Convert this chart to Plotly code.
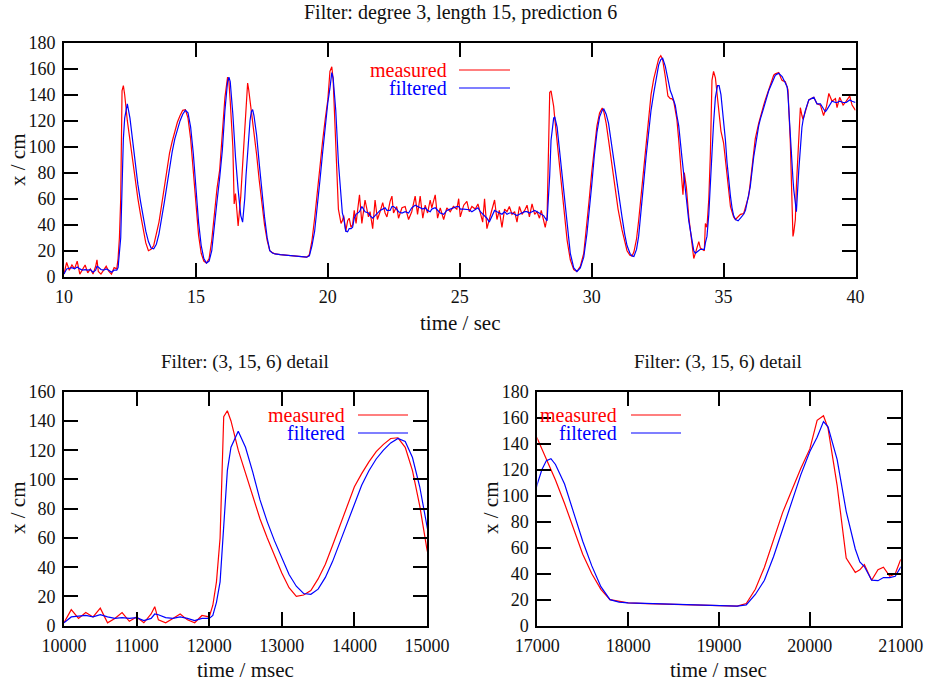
import plotly.graph_objects as go

# ---- data: position samples (time in seconds, position in cm) ----
time_s = [
    10.0, 10.1, 10.2, 10.3, 10.4, 10.5, 10.6, 10.7, 10.8, 10.9,
    11.0, 11.1, 11.2, 11.25, 11.3, 11.4, 11.5, 11.6, 11.7, 11.8,
    11.9, 12.0, 12.05, 12.1, 12.15, 12.2, 12.25, 12.3, 12.4, 12.5,
    12.6, 12.7, 12.8, 12.9, 13.0, 13.1, 13.2, 13.3, 13.4, 13.5,
    13.6, 13.7, 13.8, 13.9, 14.0, 14.1, 14.2, 14.3, 14.4, 14.5,
    14.6, 14.7, 14.8, 14.9, 15.0, 15.1, 15.2, 15.3, 15.4, 15.5,
    15.6, 15.7, 15.8, 15.9, 16.0, 16.1, 16.2, 16.25, 16.3, 16.4,
    16.45, 16.5, 16.6, 16.7, 16.77, 16.85, 16.9, 16.96, 17.0, 17.05,
    17.1, 17.15, 17.2, 17.3, 17.4, 17.5, 17.6, 17.7, 17.8, 17.9,
    18.0, 18.2, 18.4, 18.6, 18.8, 19.0, 19.2, 19.3, 19.4, 19.5,
    19.6, 19.7, 19.8, 19.9, 20.0, 20.08, 20.15, 20.2, 20.3, 20.4,
    20.5, 20.55, 20.6, 20.68, 20.75, 20.81, 20.88, 20.94, 21.0, 21.07,
    21.2, 21.29, 21.41, 21.54, 21.6, 21.7, 21.79, 21.88, 21.98, 22.08,
    22.17, 22.24, 22.36, 22.43, 22.49, 22.61, 22.68, 22.81, 22.93, 23.06,
    23.18, 23.31, 23.4, 23.5, 23.6, 23.69, 23.78, 23.88, 23.94, 24.07,
    24.16, 24.26, 24.39, 24.51, 24.64, 24.76, 24.89, 24.96, 25.02, 25.15,
    25.27, 25.36, 25.46, 25.59, 25.69, 25.78, 25.87, 25.94, 26.03, 26.12,
    26.22, 26.32, 26.41, 26.5, 26.6, 26.7, 26.79, 26.88, 26.98, 27.08,
    27.17, 27.26, 27.36, 27.46, 27.55, 27.64, 27.74, 27.84, 27.93, 28.02,
    28.09, 28.18, 28.24, 28.31, 28.41, 28.46, 28.56, 28.6, 28.69, 28.81,
    28.94, 29.07, 29.19, 29.32, 29.44, 29.57, 29.7, 29.82, 29.9, 30.0,
    30.1, 30.2, 30.3, 30.4, 30.46, 30.55, 30.64, 30.75, 30.89, 31.0,
    31.15, 31.25, 31.34, 31.45, 31.53, 31.6, 31.7, 31.78, 31.88, 31.97,
    32.06, 32.16, 32.25, 32.35, 32.45, 32.54, 32.62, 32.69, 32.79, 32.89,
    32.98, 33.04, 33.11, 33.17, 33.23, 33.3, 33.42, 33.46, 33.51, 33.59,
    33.68, 33.8, 33.87, 33.93, 33.99, 34.06, 34.12, 34.2, 34.27, 34.31,
    34.37, 34.44, 34.5, 34.56, 34.62, 34.69, 34.77, 34.83, 34.9, 35.0,
    35.07, 35.13, 35.19, 35.26, 35.32, 35.38, 35.45, 35.55, 35.64, 35.76,
    35.83, 35.95, 36.01, 36.14, 36.2, 36.33, 36.39, 36.52, 36.58, 36.71,
    36.77, 36.9, 36.96, 37.09, 37.19, 37.22, 37.34, 37.41, 37.44, 37.53,
    37.63, 37.66, 37.72, 37.76, 37.85, 37.91, 37.97, 38.01, 38.1, 38.23,
    38.32, 38.42, 38.54, 38.67, 38.79, 38.86, 38.9, 38.99, 39.11, 39.24,
    39.3, 39.4, 39.53, 39.65, 39.78, 39.87, 40.0,
]

measured = [
    2, 11, 5, 9, 6, 12, 2, 5, 9, 3,
    6, 2, 8, 13, 4, 2, 5, 8, 4, 2,
    7, 6, 14, 30, 60, 143, 147, 140, 120, 104,
    89, 73, 60, 48, 36, 26, 20, 21, 24, 32,
    42, 55, 68, 82, 95, 104, 112, 119, 124, 128,
    128.5, 122, 106, 82, 52, 32, 18, 12, 10.5, 14,
    28, 48, 68, 82, 110, 138, 153.5, 150, 135, 100,
    56, 64, 39, 62, 86, 112, 128, 149, 144, 136,
    128, 120, 112, 94, 74, 55, 40, 28, 20, 18.5,
    17.5, 17, 16.5, 16, 15.5, 15, 15, 17, 28, 45,
    66, 87, 104, 121, 136, 158, 161.5, 152, 108, 52,
    41, 43, 47, 35, 43, 45, 38, 40, 51, 41,
    63, 41, 59, 46, 50, 37, 59, 44, 50, 57,
    49, 46, 58, 62, 49, 54, 45, 53, 54, 44,
    50, 62, 48, 62, 45, 55, 49, 59, 53, 63,
    45, 53, 44, 53, 50, 54, 52, 60, 46, 55,
    58, 50, 54, 52, 56, 48, 42, 60, 37, 44,
    52, 59, 44, 51, 38, 52, 50, 54, 48, 50,
    42, 54, 48, 51, 55, 46, 56, 48, 50, 45,
    51, 42, 38, 46, 141.8, 143, 131, 122, 105, 79,
    54, 28, 13, 5.4, 4, 7.9, 18, 40, 58, 80,
    100, 116, 126, 129.7, 127, 118, 105, 88, 67, 52,
    36, 27, 20, 16.5, 16, 19, 29, 43, 64, 85,
    106, 126, 140, 152, 161, 167.7, 170, 167, 154, 139,
    137, 137, 135, 128, 121, 105, 77, 63, 80, 69,
    46, 23, 14, 18, 23, 27, 22, 21, 20, 41,
    38, 60, 95, 151, 158, 153, 135, 122, 112, 103,
    90, 74, 65, 54, 50, 46, 44, 46, 48, 48.5,
    53, 62, 72, 98, 106, 118, 123, 132, 136, 144,
    148, 155, 156, 157, 152, 151, 150, 146, 144, 103,
    31, 34, 44, 70, 108, 130, 124, 121, 127, 136,
    137, 138, 133, 132, 124, 128, 131, 141, 135, 137,
    130, 138, 132, 135, 139, 132, 128,
]

filtered = [
    2, 6, 6.5, 7, 6, 7.5, 6, 5, 5.5, 5,
    5.5, 3.5, 5, 8, 7.5, 5.5, 5, 6, 5, 3.5,
    5, 5, 7, 16, 30, 68, 106, 122, 133, 122,
    105, 86, 71, 58, 46, 35, 27, 22, 21.5, 25,
    33, 44, 57, 70, 84, 96, 106, 114, 120, 125,
    128, 126, 115, 95, 68, 42, 24, 14, 10.5, 12,
    20, 37, 58, 76, 97, 128, 150, 153.5, 150, 125,
    108, 92, 67, 47, 42, 60, 78, 98, 109, 120,
    127, 128.5, 124, 109, 87, 65, 46, 30, 20, 18.2,
    17.5, 17, 16.5, 16, 15.5, 15, 15, 16, 24, 35,
    53, 74, 95, 116, 134, 145, 157, 153, 128, 88,
    59, 49, 45.5, 35, 34.6, 37, 37, 38, 45, 48,
    50, 54, 50, 49, 47, 45, 47, 49, 51, 52,
    53, 51, 51, 54, 54, 52, 50, 49, 50, 49,
    53, 55, 54, 53, 52, 53, 51, 50, 52, 53,
    51, 49, 48, 51, 52, 53, 54, 54, 52, 52,
    52, 51.5, 50, 51.5, 53, 50, 48, 47, 45, 42,
    46, 51, 50, 49, 48, 50, 48, 49, 49, 48,
    47, 48, 49, 50, 50, 49, 50, 51, 50, 49,
    48, 47, 45, 43, 78, 105, 122, 123, 115, 92,
    66, 39, 18, 6.7, 4, 6.7, 15, 33, 48, 70,
    93, 111, 123, 128, 129, 125, 118, 102, 80, 64,
    46, 33, 24, 18, 16, 15.5, 21, 31, 50, 72,
    92, 113, 128, 141, 153, 163, 167, 168, 162, 152,
    143, 140, 136, 131.7, 124, 116, 92, 83, 72, 60,
    43, 26, 20, 18, 19, 20, 21, 21, 21, 26,
    31, 48, 67, 95, 118, 138, 147, 147, 140, 120,
    105, 88, 74, 62, 53, 47, 44, 43, 45, 48,
    51, 63, 69, 92, 100, 116, 121, 131, 134, 143,
    146, 153, 155, 156.5, 155, 154, 149, 146, 140, 105,
    75, 67, 56, 50, 82, 100, 115, 120, 128, 136,
    137, 138, 133, 133, 129, 127, 128, 131, 135, 134,
    134, 135, 134, 134, 136, 135, 134,
]

assert len(time_s) == len(measured) == len(filtered)

time_ms = [t * 1000 for t in time_s]

# ---- figure geometry (pixels) ----
W, H = 925, 682
FONT = "Liberation Serif"
RED, BLUE = "#ff0000", "#0000ff"


def fx(x):
    return x / W


def fy(y):
    return 1 - y / H


fig = go.Figure()

panels = [
    # (x data, x axis id, y axis id)
    (time_s, "x", "y"),
    (time_ms, "x2", "y2"),
    (time_ms, "x3", "y3"),
]
for xs, xa, ya in panels:
    fig.add_trace(go.Scatter(x=xs, y=measured, mode="lines", xaxis=xa, yaxis=ya,
                             line=dict(color=RED, width=1.2), showlegend=False,
                             name="measured"))
    fig.add_trace(go.Scatter(x=xs, y=filtered, mode="lines", xaxis=xa, yaxis=ya,
                             line=dict(color=BLUE, width=1.2), showlegend=False,
                             name="filtered"))

axis_style = dict(
    showline=True, linecolor="black", linewidth=2, mirror="ticks",
    ticks="inside", ticklen=14, tickwidth=2, tickcolor="black",
    showgrid=False, zeroline=False, automargin=False, tickformat="d",
    ticklabelstandoff=3,
    tickfont=dict(family=FONT, size=18, color="#111111"),
)

fig.update_layout(
    width=W, height=H, autosize=False,
    margin=dict(l=0, r=0, t=0, b=0),
    paper_bgcolor="white", plot_bgcolor="white",
    xaxis=dict(domain=[fx(64), fx(855.5)], range=[10, 40], dtick=5,
               anchor="y", **axis_style),
    yaxis=dict(domain=[fy(276.7), fy(42.7)], range=[0, 180], dtick=20,
               anchor="x", **axis_style),
    xaxis2=dict(domain=[fx(64), fx(427)], range=[10000, 15000], dtick=1000,
                anchor="y2", **axis_style),
    yaxis2=dict(domain=[fy(625.7), fy(391.7)], range=[0, 160], dtick=20,
                anchor="x2", **axis_style),
    xaxis3=dict(domain=[fx(537.3), fx(900.7)], range=[17000, 21000], dtick=1000,
                anchor="y3", **axis_style),
    yaxis3=dict(domain=[fy(625.7), fy(391.7)], range=[0, 180], dtick=20,
                anchor="x3", **axis_style),
)

annotations = []
shapes = []


def label(text, x, y, size, color="#111111", xanchor="center", angle=0):
    annotations.append(dict(
        text=text, x=fx(x), y=fy(y), xref="paper", yref="paper",
        xanchor=xanchor, yanchor="middle", showarrow=False, textangle=angle,
        font=dict(family=FONT, size=size, color=color),
    ))


# titles and axis labels
label("Filter: degree 3, length 15, prediction 6", 460, 13, 20)
label("time / sec", 460, 323, 21)
label("x / cm", 18, 160, 21, angle=-90)

label("Filter: (3, 15, 6) detail", 245, 362, 19)
label("time / msec", 245, 670, 21)
label("x / cm", 18, 508, 21, angle=-90)

label("Filter: (3, 15, 6) detail", 718, 362, 19)
label("time / msec", 718, 670, 21)
label("x / cm", 491, 508, 21, angle=-90)


# key: text on the left, line sample on the right
def key(text_right, line_x0, line_x1, y_meas, y_filt):
    for txt, col, yy in (("measured", RED, y_meas), ("filtered", BLUE, y_filt)):
        label(txt, text_right, yy, 20, color=col, xanchor="right")
        shapes.append(dict(type="line", xref="paper", yref="paper",
                           x0=fx(line_x0), x1=fx(line_x1), y0=fy(yy), y1=fy(yy),
                           line=dict(color=col, width=1.2)))


key(449, 459, 510, 70, 88)
key(347, 358, 408, 415, 433)
key(619, 631, 681, 415, 433)

fig.update_layout(annotations=annotations, shapes=shapes)

fig.write_html("out.html")
